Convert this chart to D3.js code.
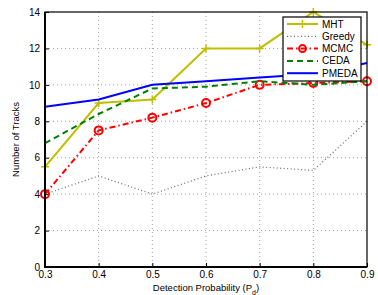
<!DOCTYPE html>
<html>
<head>
<meta charset="utf-8">
<script src="https://cdn.jsdelivr.net/npm/d3@7"></script>
<style>
  body { margin: 0; background: #fff; }
  text { font-family: "Liberation Sans", Arial, sans-serif; }
</style>
</head>
<body>
<script>
// chart data
var pd = [0.3, 0.4, 0.5, 0.6, 0.7, 0.8, 0.9];
var mht = [5.5, 9.0, 9.2, 12.0, 12.0, 14.0, 12.2];
var greedy = [4.0, 5.0, 4.0, 5.0, 5.5, 5.3, 8.0];
var mcmc = [4.0, 7.5, 8.2, 9.0, 10.0, 10.1, 10.2];
var ceda = [6.8, 8.4, 9.8, 9.9, 10.2, 10.0, 10.2];
var pmeda = [8.8, 9.2, 10.0, 10.2, 10.4, 10.6, 11.2];
var xTicks = [0.3, 0.4, 0.5, 0.6, 0.7, 0.8, 0.9];
var yTicks = [0, 2, 4, 6, 8, 10, 12, 14];

var series = [
  { name: 'MHT', values: mht, color: '#bfbf00', dash: null, width: 2, marker: 'plus' },
  { name: 'Greedy', values: greedy, color: '#666666', dash: '1,2.5', width: 1.2, marker: null },
  { name: 'MCMC', values: mcmc, color: '#ff0000', dash: '6,3,1.5,3', width: 2, marker: 'circle' },
  { name: 'CEDA', values: ceda, color: '#008000', dash: '6,4', width: 2, marker: null },
  { name: 'PMEDA', values: pmeda, color: '#0000ff', dash: null, width: 2, marker: null }
];

var W = 378, H = 295;
var margin = { top: 12, right: 11, bottom: 28, left: 45 },
    width = W - margin.left - margin.right,
    height = H - margin.top - margin.bottom;

var x = d3.scaleLinear().domain([0.3, 0.9]).range([0, width]);
var y = d3.scaleLinear().domain([0, 14]).range([height, 0]);

var svg = d3.select('body').append('svg')
    .attr('width', W)
    .attr('height', H)
  .append('g')
    .attr('transform', 'translate(' + margin.left + ',' + margin.top + ')');

// grid
svg.append('g').selectAll('line').data(xTicks.slice(1, -1)).enter().append('line')
    .attr('x1', d => x(d)).attr('x2', d => x(d))
    .attr('y1', 0).attr('y2', height)
    .attr('stroke', '#888').attr('stroke-width', 0.8).attr('stroke-dasharray', '1,3');
svg.append('g').selectAll('line').data(yTicks.slice(1, -1)).enter().append('line')
    .attr('y1', d => y(d)).attr('y2', d => y(d))
    .attr('x1', 0).attr('x2', width)
    .attr('stroke', '#888').attr('stroke-width', 0.8).attr('stroke-dasharray', '1,3');

// axes
var xAxis = svg.append('g')
    .attr('transform', 'translate(0,' + height + ')')
    .call(d3.axisBottom(x).tickValues(xTicks).tickSize(-4).tickPadding(4).tickFormat(d3.format('.1f')));
var yAxis = svg.append('g')
    .call(d3.axisLeft(y).tickValues(yTicks).tickSize(-4).tickPadding(5));
[xAxis, yAxis].forEach(function (a) {
  a.select('.domain').remove();
  a.selectAll('text').attr('font-size', 10).attr('fill', '#000')
    .style('font-family', '"Liberation Sans", Arial, sans-serif');
  a.selectAll('line').attr('stroke', '#000');
});

// lines
var line = d3.line()
    .x(function (d, i) { return x(pd[i]); })
    .y(function (d) { return y(d); });

series.forEach(function (s) {
  svg.append('path')
      .datum(s.values)
      .attr('fill', 'none')
      .attr('stroke', s.color)
      .attr('stroke-width', s.width)
      .attr('stroke-dasharray', s.dash)
      .attr('d', line);
  if (s.marker === 'circle') {
    svg.append('g').selectAll('circle').data(s.values).enter().append('circle')
        .attr('cx', (d, i) => x(pd[i])).attr('cy', d => y(d)).attr('r', 4)
        .attr('fill', 'none').attr('stroke', s.color).attr('stroke-width', 2);
  }
  if (s.marker === 'plus') {
    svg.append('g').selectAll('path').data(s.values).enter().append('path')
        .attr('d', (d, i) => {
          var cx = x(pd[i]), cy = y(d);
          return 'M' + (cx - 4) + ',' + cy + 'H' + (cx + 4) + 'M' + cx + ',' + (cy - 4) + 'V' + (cy + 4);
        })
        .attr('stroke', s.color).attr('stroke-width', 1.5);
  }
});

// frame
svg.append('rect')
    .attr('width', width).attr('height', height)
    .attr('fill', 'none').attr('stroke', '#000').attr('stroke-width', 1.2);
svg.append('path')
    .attr('d', 'M0,0V' + height + 'H' + width)
    .attr('fill', 'none').attr('stroke', '#000').attr('stroke-width', 2);

// legend
var lg = svg.append('g').attr('transform', 'translate(' + (283 - margin.left) + ',' + (17 - margin.top) + ')');
lg.append('rect').attr('width', 78).attr('height', 64)
    .attr('fill', '#fff').attr('stroke', '#000').attr('stroke-width', 1.2);
series.forEach(function (s, i) {
  var yy = 7 + i * 12.3;
  lg.append('line').attr('x1', 4).attr('x2', 35).attr('y1', yy).attr('y2', yy)
      .attr('stroke', s.color).attr('stroke-width', s.width).attr('stroke-dasharray', s.dash);
  if (s.marker === 'circle') {
    lg.append('circle').attr('cx', 19.5).attr('cy', yy).attr('r', 3.5)
        .attr('fill', 'none').attr('stroke', s.color).attr('stroke-width', 2);
  }
  if (s.marker === 'plus') {
    lg.append('path').attr('d', 'M15.5,' + yy + 'H23.5M19.5,' + (yy - 4) + 'V' + (yy + 4))
        .attr('stroke', s.color).attr('stroke-width', 1.5);
  }
  lg.append('text').attr('x', 39).attr('y', yy + 3.5).attr('font-size', 10).text(s.name);
});

// axis titles
svg.append('text')
    .attr('x', width / 2).attr('y', height + 23.5)
    .attr('text-anchor', 'middle').attr('font-size', 9.5)
    .html('Detection Probability (P<tspan baseline-shift="sub" font-size="7">d</tspan>)');
svg.append('text')
    .attr('transform', 'translate(' + (-26) + ',' + (height / 2) + ') rotate(-90)')
    .attr('text-anchor', 'middle').attr('font-size', 9.5)
    .text('Number of Tracks');
</script>
</body>
</html>
